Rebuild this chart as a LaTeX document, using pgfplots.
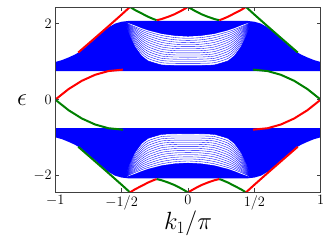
\documentclass[border=0pt]{standalone}
\usepackage{pgfplots}
\pgfplotsset{compat=1.18}
\usepackage{pgfplotstable}
\definecolor{mblue}{rgb}{0,0,1}
\definecolor{mred}{rgb}{1,0,0}
\definecolor{mgreen}{rgb}{0,0.5,0}
\definecolor{axgray}{rgb}{0.25,0.25,0.25}

\pgfplotstableread{
x l0 l1 l2 l3 l4 l5 l6 l7 l8 l9 l10 l11 l12 l13
-0.47 2.03 2.03 2.03 2.03 2.03 2.03 2.03 2.03 2.03 2.03 2.03 2.03 2.03 2.03
-0.44 1.712 1.740 1.766 1.791 1.815 1.838 1.860 1.881 1.901 1.919 1.936 1.951 1.966 1.979
-0.40 1.404 1.453 1.500 1.547 1.591 1.635 1.676 1.717 1.755 1.792 1.826 1.858 1.888 1.916
-0.35 1.159 1.219 1.278 1.336 1.393 1.450 1.505 1.560 1.613 1.664 1.712 1.759 1.804 1.845
-0.30 1.020 1.081 1.143 1.204 1.266 1.327 1.388 1.448 1.508 1.566 1.623 1.679 1.733 1.784
-0.20 0.916 0.973 1.031 1.089 1.148 1.207 1.266 1.327 1.387 1.447 1.508 1.569 1.630 1.690
-0.10 0.900 0.956 1.011 1.066 1.122 1.177 1.233 1.289 1.345 1.402 1.459 1.517 1.575 1.634
0.00 0.900 0.955 1.010 1.065 1.120 1.175 1.230 1.285 1.340 1.395 1.450 1.505 1.560 1.615
0.10 0.900 0.956 1.011 1.066 1.122 1.177 1.233 1.289 1.345 1.402 1.459 1.517 1.575 1.634
0.20 0.916 0.973 1.031 1.089 1.148 1.207 1.266 1.327 1.387 1.447 1.508 1.569 1.630 1.690
0.30 1.020 1.081 1.143 1.204 1.266 1.327 1.388 1.448 1.508 1.566 1.623 1.679 1.733 1.784
0.35 1.159 1.219 1.278 1.336 1.393 1.450 1.505 1.560 1.613 1.664 1.712 1.759 1.804 1.845
0.40 1.404 1.453 1.500 1.547 1.591 1.635 1.676 1.717 1.755 1.792 1.826 1.858 1.888 1.916
0.44 1.712 1.740 1.766 1.791 1.815 1.838 1.860 1.881 1.901 1.919 1.936 1.951 1.966 1.979
0.47 2.03 2.03 2.03 2.03 2.03 2.03 2.03 2.03 2.03 2.03 2.03 2.03 2.03 2.03
}\upfan

\pgfplotstableread{
x l0 l1 l2 l3 l4 l5 l6 l7 l8 l9 l10 l11 l12 l13
-0.47 -2.03 -2.03 -2.03 -2.03 -2.03 -2.03 -2.03 -2.03 -2.03 -2.03 -2.03 -2.03 -2.03 -2.03
-0.44 -1.712 -1.740 -1.766 -1.791 -1.815 -1.838 -1.860 -1.881 -1.901 -1.919 -1.936 -1.951 -1.966 -1.979
-0.40 -1.404 -1.453 -1.500 -1.547 -1.591 -1.635 -1.676 -1.717 -1.755 -1.792 -1.826 -1.858 -1.888 -1.916
-0.35 -1.159 -1.219 -1.278 -1.336 -1.393 -1.450 -1.505 -1.560 -1.613 -1.664 -1.712 -1.759 -1.804 -1.845
-0.30 -1.020 -1.081 -1.143 -1.204 -1.266 -1.327 -1.388 -1.448 -1.508 -1.566 -1.623 -1.679 -1.733 -1.784
-0.20 -0.916 -0.973 -1.031 -1.089 -1.148 -1.207 -1.266 -1.327 -1.387 -1.447 -1.508 -1.569 -1.630 -1.690
-0.10 -0.900 -0.956 -1.011 -1.066 -1.122 -1.177 -1.233 -1.289 -1.345 -1.402 -1.459 -1.517 -1.575 -1.634
0.00 -0.900 -0.955 -1.010 -1.065 -1.120 -1.175 -1.230 -1.285 -1.340 -1.395 -1.450 -1.505 -1.560 -1.615
0.10 -0.900 -0.956 -1.011 -1.066 -1.122 -1.177 -1.233 -1.289 -1.345 -1.402 -1.459 -1.517 -1.575 -1.634
0.20 -0.916 -0.973 -1.031 -1.089 -1.148 -1.207 -1.266 -1.327 -1.387 -1.447 -1.508 -1.569 -1.630 -1.690
0.30 -1.020 -1.081 -1.143 -1.204 -1.266 -1.327 -1.388 -1.448 -1.508 -1.566 -1.623 -1.679 -1.733 -1.784
0.35 -1.159 -1.219 -1.278 -1.336 -1.393 -1.450 -1.505 -1.560 -1.613 -1.664 -1.712 -1.759 -1.804 -1.845
0.40 -1.404 -1.453 -1.500 -1.547 -1.591 -1.635 -1.676 -1.717 -1.755 -1.792 -1.826 -1.858 -1.888 -1.916
0.44 -1.712 -1.740 -1.766 -1.791 -1.815 -1.838 -1.860 -1.881 -1.901 -1.919 -1.936 -1.951 -1.966 -1.979
0.47 -2.03 -2.03 -2.03 -2.03 -2.03 -2.03 -2.03 -2.03 -2.03 -2.03 -2.03 -2.03 -2.03 -2.03
}\lofan

\begin{document}
\begin{tikzpicture}
\begin{axis}[
  width=265.4pt, height=184.7pt, scale only axis,
  xmin=-1, xmax=1, ymin=-2.43, ymax=2.43,
  xtick={-1,-0.5,0,0.5,1},
  xticklabels={$-1$,$-1/2$,$0$,$1/2$,$1$},
  ytick={-2,0,2},
  tick align=inside, major tick length=4pt,
  tick style={axgray, line width=0.6pt},
  axis line style={axgray, line width=0.8pt},
  ticklabel style={font=\fontsize{14.4}{16}\selectfont},
  xlabel={$k_1/\pi$}, ylabel={$\epsilon$},
  xlabel style={font=\fontsize{24}{28}\selectfont, at={(axis description cs:0.5,-0.202)}, anchor=base},
  ylabel style={font=\fontsize{24}{28}\selectfont, at={(axis description cs:-0.125,0.5)}, anchor=center, rotate=-90},
  axis on top,
]
\coordinate (bl) at (rel axis cs:0,0);
\coordinate (tr) at (rel axis cs:1,1);

% ---- upper bulk band envelope
\addplot[draw=none, fill=mblue] coordinates {
(-1,0.99) (-0.95,1.04) (-0.9,1.11) (-0.85,1.19) (-0.8,1.30) (-0.75,1.45) (-0.7,1.60) (-0.65,1.76) (-0.6,1.90) (-0.55,2.00) (-0.5,2.05) (-0.45,2.07)
(0.45,2.07) (0.5,2.05) (0.55,2.00) (0.6,1.90) (0.65,1.76) (0.7,1.60) (0.75,1.45) (0.8,1.30) (0.85,1.19) (0.9,1.11) (0.95,1.04) (1,0.99)
(1,0.75) (-1,0.75)} -- cycle;
% ---- lower bulk band envelope
\addplot[draw=none, fill=mblue] coordinates {
(-1,-0.99) (-0.95,-1.04) (-0.9,-1.11) (-0.85,-1.19) (-0.8,-1.30) (-0.75,-1.45) (-0.7,-1.60) (-0.65,-1.76) (-0.6,-1.90) (-0.55,-2.00) (-0.5,-2.05) (-0.45,-2.07)
(0.45,-2.07) (0.5,-2.05) (0.55,-2.00) (0.6,-1.90) (0.65,-1.76) (0.7,-1.60) (0.75,-1.45) (0.8,-1.30) (0.85,-1.19) (0.9,-1.11) (0.95,-1.04) (1,-0.99)
(1,-0.75) (-1,-0.75)} -- cycle;

% ---- sparse (light) region of the upper band
\addplot[draw=none, fill=white] coordinates {
(-0.47,2.03) (-0.44,2.00) (-0.40,1.95) (-0.35,1.88) (-0.30,1.82) (-0.20,1.73) (-0.10,1.68) (0,1.66) (0.10,1.68) (0.20,1.73) (0.30,1.82) (0.35,1.88) (0.40,1.95) (0.44,2.00) (0.47,2.03)
(0.44,1.712) (0.40,1.404) (0.35,1.159) (0.30,1.020) (0.20,0.916) (0.10,0.900) (0,0.900) (-0.10,0.900) (-0.20,0.916) (-0.30,1.020) (-0.35,1.159) (-0.40,1.404) (-0.44,1.712)} -- cycle;
% ---- sparse (light) region of the lower band
\addplot[draw=none, fill=white] coordinates {
(-0.47,-2.03) (-0.44,-2.00) (-0.40,-1.95) (-0.35,-1.88) (-0.30,-1.82) (-0.20,-1.73) (-0.10,-1.68) (0,-1.66) (0.10,-1.68) (0.20,-1.73) (0.30,-1.82) (0.35,-1.88) (0.40,-1.95) (0.44,-2.00) (0.47,-2.03)
(0.44,-1.712) (0.40,-1.404) (0.35,-1.159) (0.30,-1.020) (0.20,-0.916) (0.10,-0.900) (0,-0.900) (-0.10,-0.900) (-0.20,-0.916) (-0.30,-1.020) (-0.35,-1.159) (-0.40,-1.404) (-0.44,-1.712)} -- cycle;

% ---- bulk lines in the sparse regions
\pgfplotsinvokeforeach{0,...,13}{
  \addplot[mblue, line width=0.35pt, smooth, tension=0.4] table[x=x, y=l#1] {\upfan};
  \addplot[mblue, line width=0.35pt, smooth, tension=0.4] table[x=x, y=l#1] {\lofan};
}

% ---- in-gap edge states
\addplot[mred, line width=2pt] coordinates {(-1,0) (-0.9,0.278) (-0.8,0.496) (-0.7,0.654) (-0.6,0.752) (-0.49,0.79)};
\addplot[mgreen, line width=2pt] coordinates {(-1,0) (-0.9,-0.278) (-0.8,-0.496) (-0.7,-0.654) (-0.6,-0.752) (-0.49,-0.79)};
\addplot[mgreen, line width=2pt] coordinates {(0.49,0.79) (0.6,0.752) (0.7,0.654) (0.8,0.496) (0.9,0.278) (1,0)};
\addplot[mred, line width=2pt] coordinates {(0.49,-0.79) (0.6,-0.752) (0.7,-0.654) (0.8,-0.496) (0.9,-0.278) (1,0)};

% ---- upper band edge states
\addplot[mred, line width=2pt] coordinates {(-0.827,1.24) (-0.7,1.625) (-0.6,1.93) (-0.5,2.24) (-0.437,2.44)};
\addplot[mgreen, line width=2pt] coordinates {(-0.437,2.44) (-0.40,2.36) (-0.35,2.27) (-0.30,2.18) (-0.26,2.12) (-0.236,2.09)};
\addplot[mred, line width=2pt] coordinates {(-0.236,2.09) (-0.20,2.12) (-0.15,2.18) (-0.10,2.25) (-0.05,2.34) (0,2.44)};
\addplot[mgreen, line width=2pt] coordinates {(0,2.44) (0.05,2.34) (0.10,2.25) (0.15,2.18) (0.20,2.12) (0.236,2.09)};
\addplot[mred, line width=2pt] coordinates {(0.236,2.09) (0.26,2.12) (0.30,2.18) (0.35,2.27) (0.40,2.36) (0.437,2.44)};
\addplot[mgreen, line width=2pt] coordinates {(0.437,2.44) (0.5,2.24) (0.6,1.93) (0.7,1.625) (0.827,1.24)};

% ---- lower band edge states
\addplot[mgreen, line width=2pt] coordinates {(-0.827,-1.24) (-0.7,-1.625) (-0.6,-1.93) (-0.5,-2.24) (-0.437,-2.44)};
\addplot[mred, line width=2pt] coordinates {(-0.437,-2.44) (-0.40,-2.36) (-0.35,-2.27) (-0.30,-2.18) (-0.26,-2.12) (-0.236,-2.09)};
\addplot[mgreen, line width=2pt] coordinates {(-0.236,-2.09) (-0.20,-2.12) (-0.15,-2.18) (-0.10,-2.25) (-0.05,-2.34) (0,-2.44)};
\addplot[mred, line width=2pt] coordinates {(0,-2.44) (0.05,-2.34) (0.10,-2.25) (0.15,-2.18) (0.20,-2.12) (0.236,-2.09)};
\addplot[mgreen, line width=2pt] coordinates {(0.236,-2.09) (0.26,-2.12) (0.30,-2.18) (0.35,-2.27) (0.40,-2.36) (0.437,-2.44)};
\addplot[mred, line width=2pt] coordinates {(0.437,-2.44) (0.5,-2.24) (0.6,-1.93) (0.7,-1.625) (0.827,-1.24)};
\end{axis}
\path ([shift={(-55.3pt,-58pt)}]bl) rectangle ([shift={(11.3pt,7.3pt)}]tr);
\end{tikzpicture}
\end{document}
